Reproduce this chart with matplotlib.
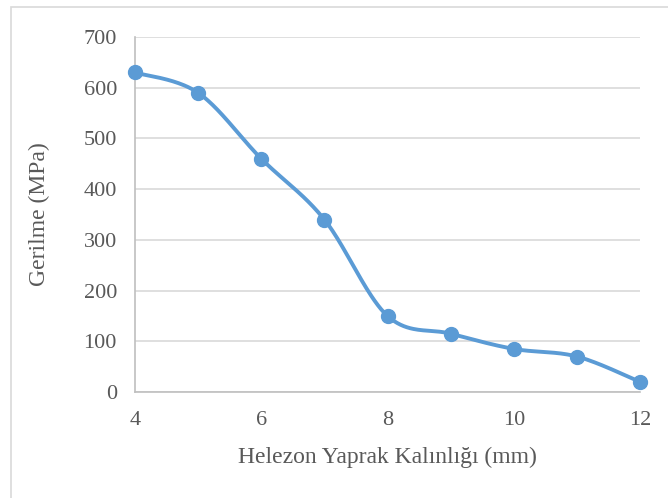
import numpy as np
import matplotlib.pyplot as plt
from matplotlib.patches import Rectangle

# kalınlık (mm) ve gerilme (MPa)
kalinlik = [4, 5, 6, 7, 8, 9, 10, 11, 12]
gerilme = [630, 590, 460, 340, 150, 115, 85, 70, 20]

plt.rcParams['font.family'] = ['Liberation Serif', 'DejaVu Serif']
renk = '#5B9BD5'
gri = '#595959'


def yumusat(x, y, n=40):
    # Excel tarzı yumuşatılmış çizgi (kübik Bezier)
    x = np.asarray(x, float)
    y = np.asarray(y, float)
    p = np.column_stack([x, y])
    p = np.vstack([p[0], p, p[-1]])
    out = []
    t = np.linspace(0, 1, n)[:, None]
    for i in range(1, len(p) - 2):
        p0, p3 = p[i], p[i + 1]
        p1 = p0 + (p[i + 1] - p[i - 1]) / 6
        p2 = p3 - (p[i + 2] - p[i]) / 6
        seg = ((1 - t) ** 3) * p0 + 3 * ((1 - t) ** 2) * t * p1 + 3 * (1 - t) * t ** 2 * p2 + t ** 3 * p3
        out.append(seg if i == 1 else seg[1:])
    out = np.vstack(out)
    return out[:, 0], out[:, 1]


fig = plt.figure(figsize=(6.68, 4.98), dpi=100)
ax = fig.add_axes([135 / 668, 1 - 392 / 498, 505 / 668, 355 / 498])

# dış çerçeve
fig.patches.append(Rectangle((11 / 668, -0.05), 1.1, 1 - 7 / 498 + 0.05, transform=fig.transFigure,
                             fill=False, edgecolor='#D9D9D9', linewidth=1.2, clip_on=False))

sx, sy = yumusat(kalinlik, gerilme)
ax.plot(sx, sy, color=renk, linewidth=2.8, solid_capstyle='round', zorder=3)
ax.plot(kalinlik, gerilme, 'o', color=renk, markersize=10, zorder=4, clip_on=False)

ax.set_xlim(4, 12)
ax.set_ylim(0, 700)
ax.set_xticks(range(4, 13, 2))
ax.set_yticks(range(0, 701, 100))
ax.grid(axis='y', color='#D9D9D9', linewidth=1.2)
ax.set_axisbelow(True)
for s in ['top', 'right']:
    ax.spines[s].set_visible(False)
ax.spines['left'].set_color('#BFBFBF')
ax.spines['bottom'].set_color('#BFBFBF')
ax.spines['left'].set_linewidth(1.2)
ax.spines['bottom'].set_linewidth(1.2)
ax.tick_params(length=0, labelsize=16, colors=gri, pad=14)
ax.tick_params(axis='y', pad=13)

ax.set_xlabel('Helezon Yaprak Kalınlığı (mm)', fontsize=17, color=gri, labelpad=12)
ax.set_ylabel('Gerilme (MPa)', fontsize=17, color=gri, labelpad=24)

fig.savefig('out.png', dpi=100)
